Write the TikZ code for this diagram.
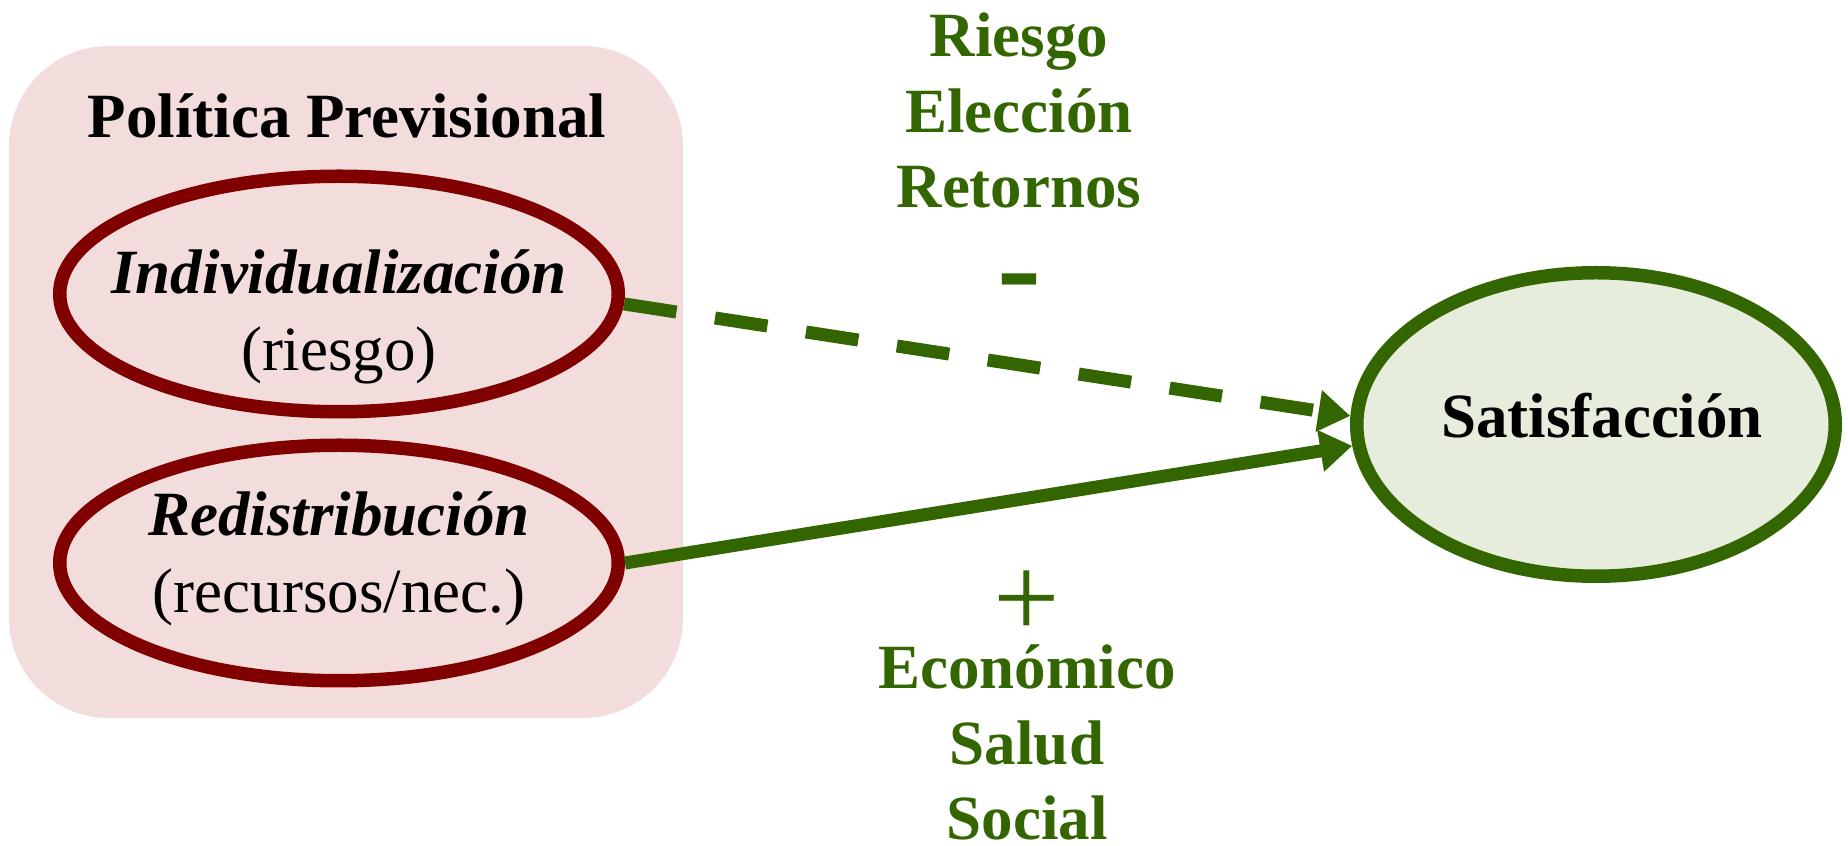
\documentclass[tikz,border=0pt]{standalone}
\usepackage{fontspec}
\setmainfont{Liberation Serif}
\usepackage{xcolor}
\usetikzlibrary{arrows.meta,shapes.geometric}
\definecolor{polgreen}{HTML}{336600}
\definecolor{polred}{HTML}{800000}
\definecolor{polpink}{HTML}{F3DCDC}
\definecolor{satfill}{HTML}{E6EDDC}

\begin{document}
\begin{tikzpicture}[x=0.5pt, y=0.5pt,
	oval/.style={ellipse, draw=polred, line width=6.75pt, minimum width=279.25pt, minimum height=117.75pt},
	txt/.style={font=\fontsize{31.5}{38.5}\selectfont, align=center, anchor=base, inner sep=0pt},
	greentxt/.style={font=\bfseries\fontsize{31.5}{37.75}\selectfont, text=polgreen, align=center, anchor=base, inner sep=0pt},
	link/.style={draw=polgreen, line width=6.5pt, -{Triangle[length=16pt, width=20pt]}}]
	\useasboundingbox (0,0) rectangle (1848,846);
	\fill[polpink, rounded corners=50pt] (9,128) rectangle (683,800);
	\node[txt, font=\bfseries\fontsize{31.5}{38}\selectfont] (title) at (347,708) {Política Previsional};
	\node[oval] (ind) at (339,552) {};
	\node[oval] (redis) at (339,283) {};
	\node[ellipse, draw=polgreen, fill=satfill, line width=6.75pt, minimum width=239.25pt, minimum height=151.75pt] (sat) at (1596,421.5) {};
	% texto de las elipses (base = ultima linea)
	\node[txt] (indtxt) at (339,475) {\textbf{\textit{Individualización}}\\(riesgo)};
	\node[txt] (redtxt) at (339,233) {\textbf{\textit{Redistribución}}\\(recursos/nec.)};
	\node[txt, font=\bfseries\fontsize{31.5}{38}\selectfont] (sattxt) at (1602,408) {Satisfacción};
	% efectos
	\node[greentxt] (neg) at (1019,638) {Riesgo\\Elección\\Retornos};
	\node[greentxt, font=\bfseries\fontsize{66}{66}\selectfont] (minus) at (1019,535) {-};
	\node[greentxt, font=\fontsize{59}{59}\selectfont] (plus) at (1027,208) {+};
	\node[greentxt] (pos) at (1027,6) {Económico\\Salud\\Social};
	\draw[link, dash pattern=on 26.5pt off 19.5pt] (ind.358) -- (sat.178);
	\draw[link] (redis.east) -- (sat.185);
\end{tikzpicture}
\end{document}
